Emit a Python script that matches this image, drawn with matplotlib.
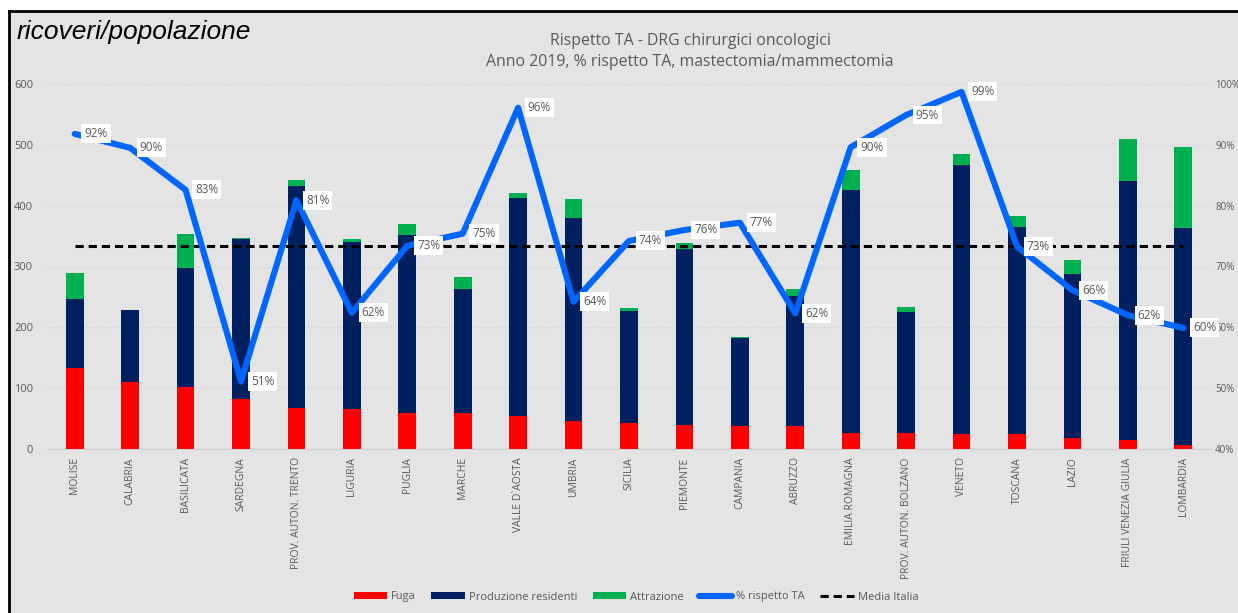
import matplotlib
matplotlib.use("Agg")
import matplotlib.pyplot as plt
from matplotlib.patches import Rectangle
from matplotlib.lines import Line2D

# ── Data ──────────────────────────────────────────────────────────────────────
regions = [
    "MOLISE", "CALABRIA", "BASILICATA", "SARDEGNA", "PROV. AUTON. TRENTO",
    "LIGURIA", "PUGLIA", "MARCHE", "VALLE D`AOSTA", "UMBRIA", "SICILIA",
    "PIEMONTE", "CAMPANIA", "ABRUZZO", "EMILIA ROMAGNA",
    "PROV. AUTON. BOLZANO", "VENETO", "TOSCANA", "LAZIO",
    "FRIULI VENEZIA GIULIA", "LOMBARDIA",
]
fuga = [133, 110, 102, 83, 68, 65, 60, 60, 55, 46, 42, 40, 37, 37, 27, 26, 25, 25, 18, 15, 7]
produzione = [113, 118, 196, 263, 364, 275, 291, 203, 358, 333, 185, 288, 145, 215, 398, 199, 442, 340, 269, 426, 356]
attrazione = [43, 1, 56, 1, 10, 6, 19, 20, 8, 32, 4, 10, 2, 11, 34, 8, 18, 18, 24, 69, 134]
rispetto_ta = [91.8, 89.5, 82.6, 51.1, 80.9, 62.4, 73.4, 75.4, 96.1, 64.2, 74.2,
               76.0, 77.2, 62.3, 89.6, 94.9, 98.7, 73.3, 66.1, 62.0, 59.9]
rispetto_lbl = [92, 90, 83, 51, 81, 62, 73, 75, 96, 64, 74, 76, 77, 62, 90, 95, 99, 73, 66, 62, 60]
media_italia = 73.4

# ── Styling ───────────────────────────────────────────────────────────────────
BG = "#E4E4E4"
RED = "#FF0000"
NAVY = "#002060"
GREEN = "#00B050"
BLUE = "#0066FF"
TXT = "#595959"
FONT = "Open Sans"

W, H = 1238, 613
fig = plt.figure(figsize=(W / 100, H / 100), dpi=100)
fig.patch.set_facecolor("white")

# gray panel with black border on top/left
fig.patches.append(Rectangle((9 / W, 0), 1 - 9 / W, 1 - 12 / H,
                             transform=fig.transFigure, facecolor=BG,
                             edgecolor="none", zorder=-10))
fig.add_artist(Line2D([8.5 / W, 8.5 / W], [0, 1 - 11 / H], color="black",
                      linewidth=2, transform=fig.transFigure, zorder=-5))
fig.add_artist(Line2D([8.5 / W, 1], [1 - 11 / H, 1 - 11 / H], color="black",
                      linewidth=2, transform=fig.transFigure, zorder=-5))

ax = fig.add_axes([47 / W, 1 - 449 / H, (1211 - 47) / W, (449 - 84) / H])
ax.set_facecolor("none")
x = list(range(len(regions)))
bw = 0.32

base2 = [f + p for f, p in zip(fuga, produzione)]
ax.bar(x, fuga, bw, color=RED, label="Fuga", zorder=2)
ax.bar(x, produzione, bw, bottom=fuga, color=NAVY, label="Produzione residenti", zorder=2)
ax.bar(x, attrazione, bw, bottom=base2, color=GREEN, label="Attrazione", zorder=2)

ax.set_xlim(-0.5, len(regions) - 0.5)
ax.set_ylim(0, 600)
ax.set_yticks(range(0, 601, 100))
ax.grid(True, axis="y", color="#CFCFCF", linestyle=(0, (1, 2)), linewidth=0.8, zorder=0)
ax.set_xticks(x)
ax.set_xticklabels(regions, rotation=90, fontsize=7.5, color=TXT, family=FONT)
ax.tick_params(axis="x", length=0, pad=6)
ax.tick_params(axis="y", length=0, pad=10, labelsize=8, labelcolor=TXT)
for lb in ax.get_yticklabels():
    lb.set_family(FONT)
for s in ("top", "right", "left"):
    ax.spines[s].set_visible(False)
ax.spines["bottom"].set_color("#D0D0D0")

ax2 = ax.twinx()
ax2.set_ylim(40, 100)
ax2.set_yticks(range(40, 101, 10))
ax2.set_yticklabels([f"{v}%" for v in range(40, 101, 10)], fontsize=7, color=TXT, family=FONT)
ax2.tick_params(axis="y", length=0, pad=3)
for s in ax2.spines.values():
    s.set_visible(False)

ax2.plot(x, rispetto_ta, color=BLUE, linewidth=4.4, solid_capstyle="round",
         solid_joinstyle="round", label="% rispetto TA", zorder=4)
ax2.plot([x[0], x[-1]], [media_italia, media_italia], color="black", linewidth=2.2,
         linestyle=(0, (2.7, 1.6)), label="Media Italia", zorder=3)
for xi, v, l in zip(x, rispetto_ta, rispetto_lbl):
    ax2.annotate(f"{l}%", xy=(xi, v), xytext=(7, 0), textcoords="offset points",
                 ha="left", va="center", fontsize=8.5, color=TXT, family=FONT,
                 bbox=dict(boxstyle="square,pad=0.25", fc="white", ec="none"),
                 zorder=6)

fig.text(690 / W, 1 - 41 / H, "Rispetto TA - DRG chirurgici oncologici",
         ha="center", va="center", fontsize=11.4, color=TXT, family=FONT)
fig.text(690 / W, 1 - 62 / H, "Anno 2019, % rispetto TA, mastectomia/mammectomia",
         ha="center", va="center", fontsize=11.4, color=TXT, family=FONT)
fig.text(17 / W, 1 - 32 / H, "ricoveri/popolazione", ha="left", va="center",
         fontsize=19, style="italic", color="black", family="Liberation Sans")

h1, l1 = ax.get_legend_handles_labels()
h2, l2 = ax2.get_legend_handles_labels()
leg = fig.legend(h1 + h2, l1 + l2, loc="center", bbox_to_anchor=(636 / W, 1 - 597 / H),
                 ncol=5, frameon=False, handlelength=3.0, handleheight=0.5,
                 columnspacing=1.4, handletextpad=0.35, prop={"family": FONT, "size": 8})
for t in leg.get_texts():
    t.set_color(TXT)

fig.savefig("out.png", dpi=100, facecolor="white")
